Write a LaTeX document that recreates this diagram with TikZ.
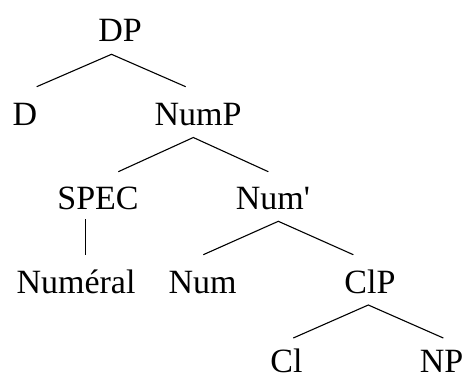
\documentclass[tikz,border=0pt]{standalone}
\usepackage{fontspec}
\newfontfamily\treefont{Liberation Serif}
\begin{document}
\begin{tikzpicture}[x=1pt,y=-1pt,
  lbl/.style={anchor=base,inner sep=0pt,text depth=0pt,font=\treefont\fontsize{34}{36}\selectfont},
  edge/.style={line width=1.1pt,black}]
\useasboundingbox (0,0) rectangle (464,378);
\node[lbl] (DP) at (120,41.7) {DP};
\node[lbl] (D) at (25,125) {D};
\node[lbl] (NumP) at (198,125) {NumP};
\node[lbl] (SPEC) at (98,209.5) {SPEC};
\node[lbl] (Numbar) at (273,209.5) {Num'};
\node[lbl] (Numeral) at (76,293) {Numéral};
\node[lbl] (Num) at (202.5,293) {Num};
\node[lbl] (ClP) at (370,293) {ClP};
\node[lbl] (Cl) at (286.5,372) {Cl};
\node[lbl] (NP) at (441.5,372) {NP};
% attachment points
\coordinate (DPa) at (111.5,54.3);
\coordinate (Da) at (36.7,86.7);
\coordinate (NumPt) at (185.7,86.7);
\coordinate (NumPa) at (193.3,137.5);
\coordinate (SPECt) at (118.3,171.7);
\coordinate (Numbart) at (268.3,171.7);
\coordinate (SPECa) at (85.5,219);
\coordinate (Numeralt) at (85.5,255.3);
\coordinate (Numbara) at (278.3,221.3);
\coordinate (Numt) at (203.3,254.7);
\coordinate (ClPt) at (353.3,254.7);
\coordinate (ClPa) at (368.3,305);
\coordinate (Clt) at (293.3,338);
\coordinate (NPt) at (443.3,338);
\draw[edge] (Da) -- (DPa) -- (NumPt);
\draw[edge] (SPECt) -- (NumPa) -- (Numbart);
\draw[edge] (SPECa) -- (Numeralt);
\draw[edge] (Numt) -- (Numbara) -- (ClPt);
\draw[edge] (Clt) -- (ClPa) -- (NPt);
\end{tikzpicture}
\end{document}
